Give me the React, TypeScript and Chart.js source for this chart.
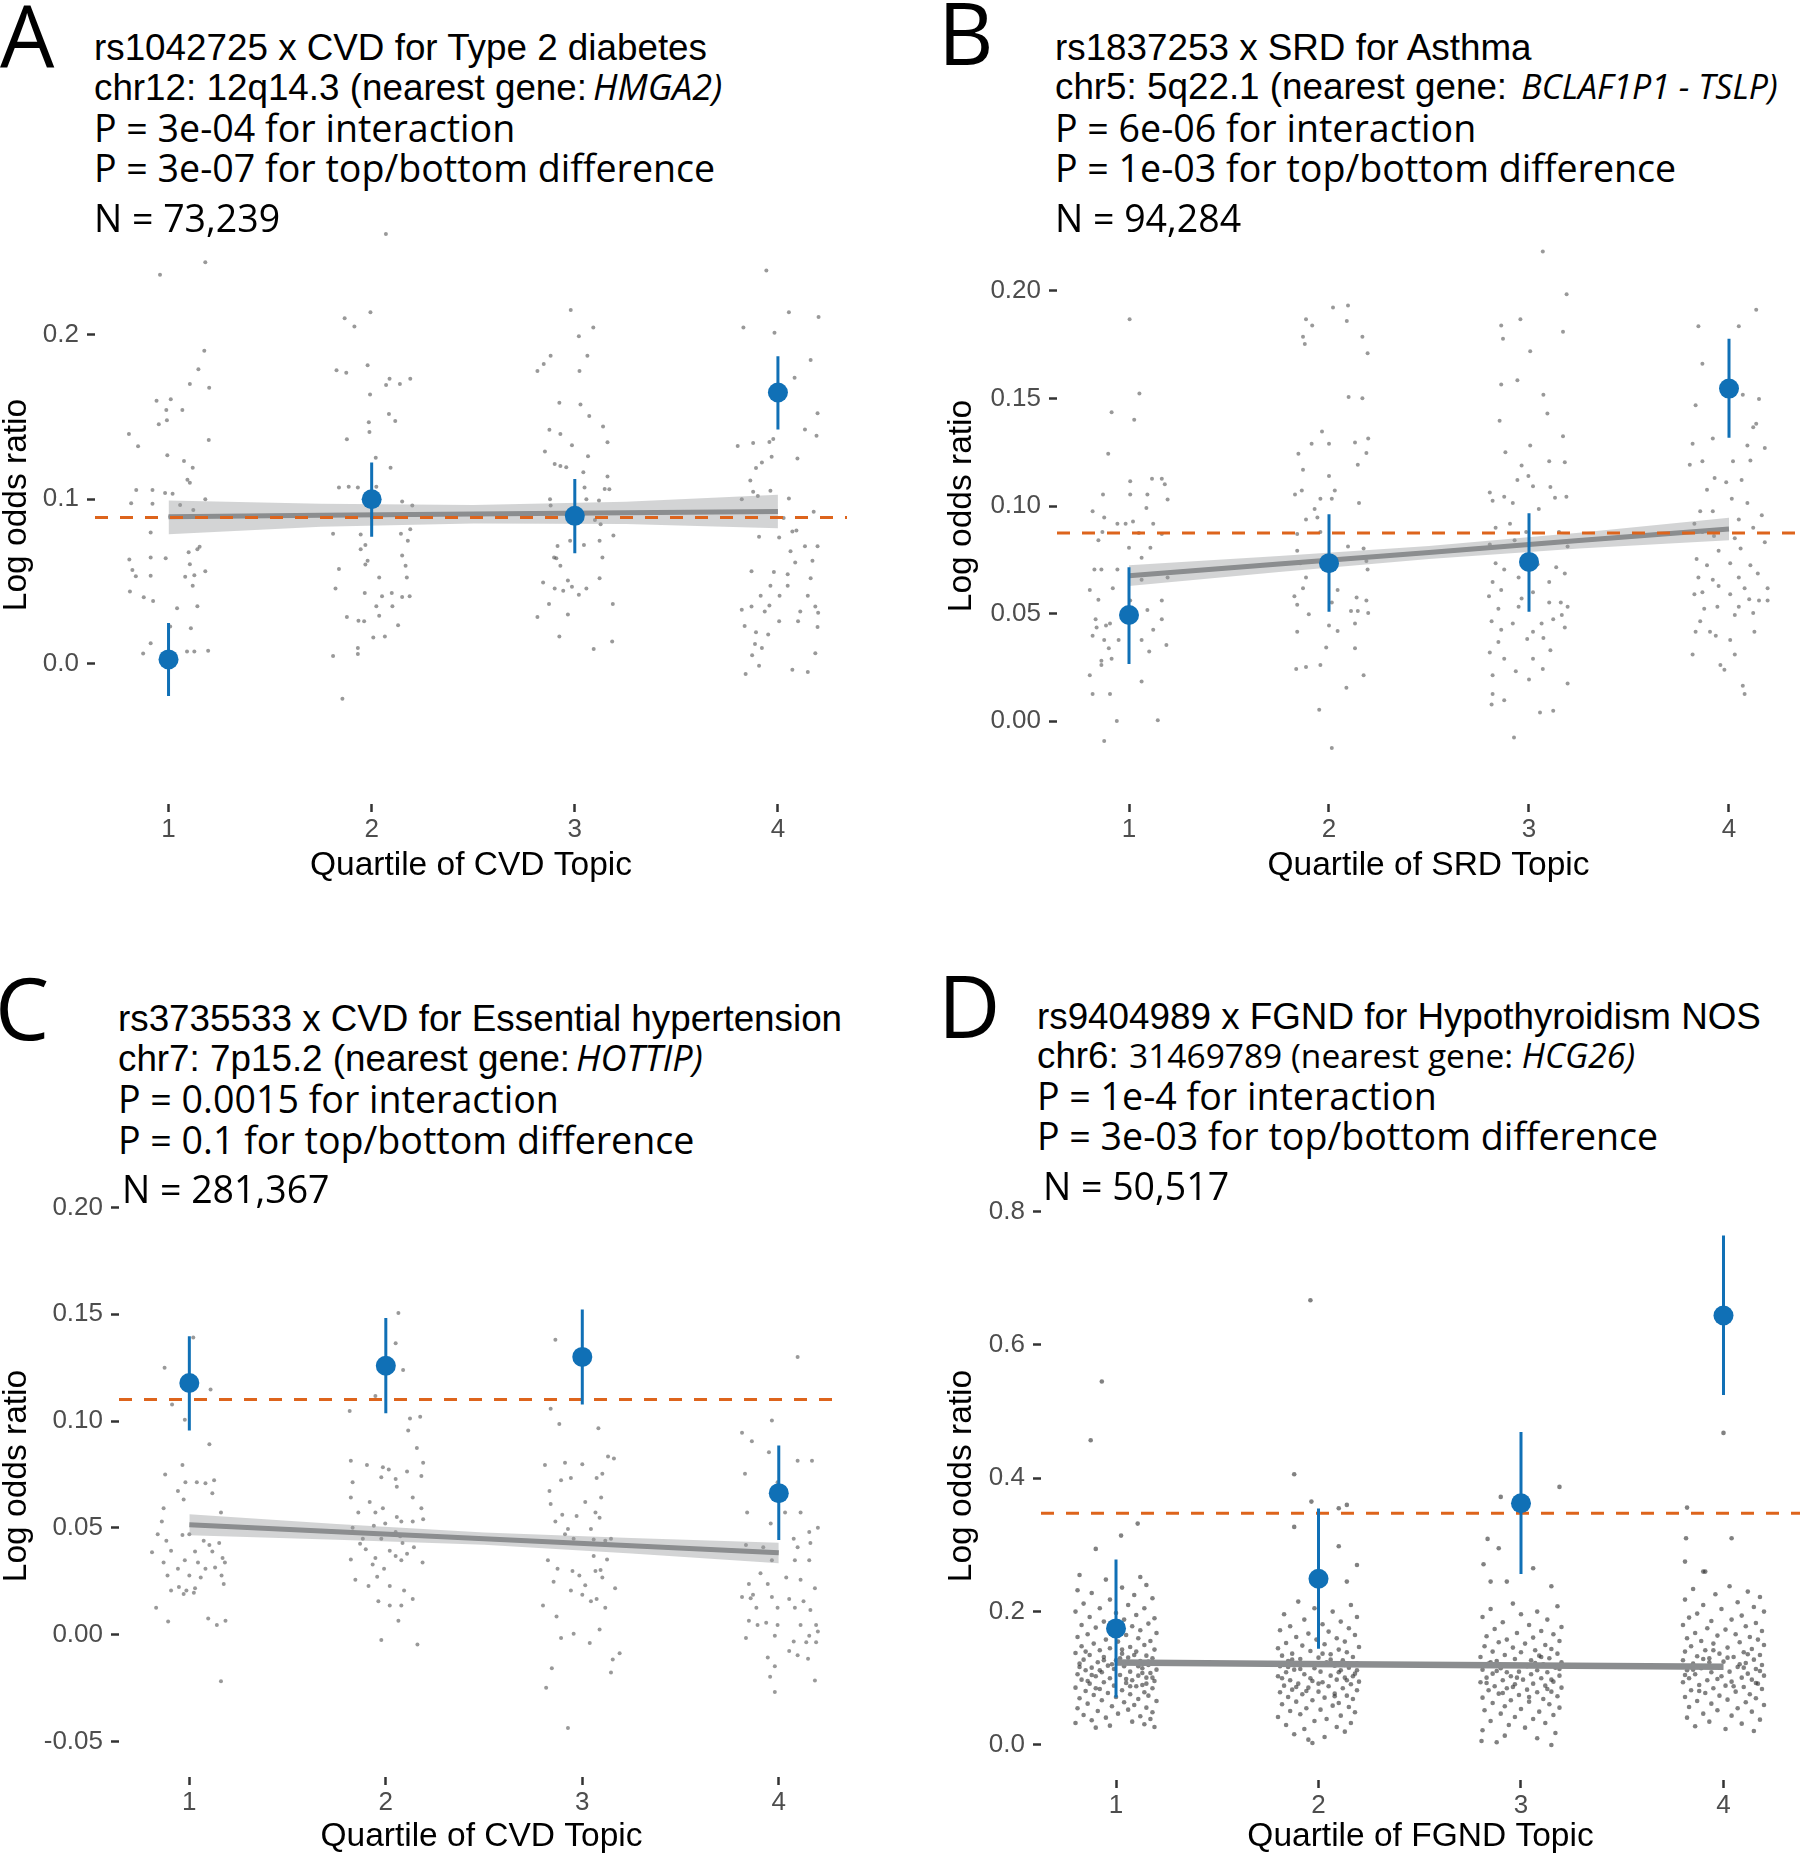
import React, { useEffect, useRef } from 'react';
import { Chart, registerables } from 'chart.js';

Chart.register(...registerables);

// ---------------- shared ----------------
const quartiles = [1, 2, 3, 4];
const xTickLabels = ['1', '2', '3', '4'];
const fitX = [1, 1.75, 2.5, 3.25, 4];

const BLUE = '#1070B6';
const ORANGE = '#DD641C';
const FIT_COLOR = '#8B8D8F';
const RIBBON = 'rgba(150,152,154,0.42)';
const DOT = 'rgba(70,70,70,0.55)';
const DOT_D = 'rgba(45,45,45,0.6)';
const ARIAL = '"Liberation Sans", Arial, Helvetica, sans-serif';
const OPEN = '"Open Sans", "Noto Sans", sans-serif';

// ---------------- Panel A ----------------
const aTitle = ['rs1042725 x CVD for Type 2 diabetes', 'chr12: 12q14.3 (nearest gene:', 'HMGA2)', 'P = 3e-04 for interaction', 'P = 3e-07 for top/bottom difference', 'N = 73,239'];
const aXTitle = 'Quartile of CVD Topic';
const aYTicks = [0, 0.1, 0.2];
const aYTickLabels = ['0.0', '0.1', '0.2'];
const aEst = [0.0025, 0.100, 0.0899, 0.165];
const aLo = [-0.0197, 0.0772, 0.0671, 0.1425];
const aHi = [0.0246, 0.1223, 0.1124, 0.187];
const aOverall = 0.0889;
const aFit = [0.0893, 0.0902, 0.0910, 0.0918, 0.0926];
const aFitLo = [0.0787, 0.0832, 0.0852, 0.0850, 0.0823];
const aFitHi = [0.0992, 0.0972, 0.0965, 0.0985, 0.1028];
const aQ1 = [[-0.042,0.2367],[0.181,0.2443],[0.176,0.1904],[0.147,0.1792],[0.105,0.1701],[0.2,0.1678],[-0.059,0.16],[0.011,0.1608],[-0.011,0.1544],[0.068,0.1544],[-0.048,0.1456],[-0.008,0.1481],[-0.195,0.1397],[0.198,0.136],[-0.15,0.1322],[-0.006,0.1268],[0.076,0.1233],[0.119,0.1192],[0.093,0.1119],[0.105,0.1101],[-0.159,0.1056],[-0.079,0.1056],[-0.017,0.1038],[0.02,0.1033],[0.181,0.1],[-0.184,0.0975],[-0.079,0.0972],[0.057,0.0965],[0.122,0.0934],[0.008,0.0894],[-0.088,0.0797],[0.153,0.0711],[0.142,0.0696],[0.099,0.0678],[-0.193,0.0633],[-0.088,0.0646],[-0.014,0.0641],[-0.178,0.057],[-0.161,0.0532],[0.105,0.0605],[0.181,0.0562],[-0.088,0.0534],[0.082,0.0529],[0.127,0.0537],[-0.19,0.0438],[-0.122,0.0403],[0.119,0.0473],[-0.076,0.038],[0.042,0.0337],[0.142,0.0349],[0.008,0.0225],[0.11,0.0215],[-0.088,0.0124],[-0.125,0.0061],[0.127,0.0073],[0.091,0.0073],[0.195,0.0078]];
const aQ2 = [[0.07,0.2615],[-0.144,-0.0215],[-0.006,0.2139],[-0.085,0.2051],[-0.133,0.2101],[-0.02,0.1815],[-0.173,0.1785],[-0.125,0.177],[0.088,0.1734],[0.19,0.1734],[0.139,0.1701],[0.071,0.1696],[-0.008,0.1638],[0.085,0.1519],[0.116,0.1476],[-0.014,0.1468],[-0.011,0.141],[-0.122,0.1365],[0.02,0.1253],[0.093,0.1192],[-0.161,0.1071],[-0.113,0.1076],[-0.068,0.1071],[0.023,0.1076],[0.15,0.0987],[0.2,0.0962],[-0.19,0.079],[-0.054,0.0785],[0.144,0.079],[0.19,0.0818],[0.178,0.0747],[-0.031,0.0722],[-0.054,0.0696],[0.15,0.0658],[-0.02,0.0625],[-0.031,0.0603],[0.167,0.0595],[-0.161,0.0575],[0.037,0.0524],[0.173,0.0524],[-0.178,0.0456],[-0.034,0.043],[0.099,0.043],[0.051,0.041],[0.15,0.0405],[0.187,0.041],[0.023,0.0349],[0.102,0.0349],[-0.122,0.0284],[-0.065,0.0261],[-0.037,0.0258],[0.037,0.0291],[0.13,0.0233],[0.008,0.0159],[0.065,0.0165],[-0.068,0.0094],[-0.068,0.0058],[-0.19,0.0046]];
const aQ3 = [[-0.02,0.2152],[0.091,0.2046],[0.02,0.1992],[0.062,0.1873],[-0.119,0.1873],[-0.153,0.1823],[-0.184,0.178],[0.023,0.178],[-0.076,0.1587],[0.028,0.1577],[0.071,0.1506],[-0.125,0.1423],[-0.071,0.1397],[0.139,0.1443],[-0.014,0.1329],[0.161,0.1347],[-0.147,0.1291],[0.065,0.1261],[-0.099,0.1215],[-0.071,0.1203],[-0.042,0.1195],[0.042,0.1165],[0.161,0.1139],[0.17,0.1061],[0.147,0.1063],[0.119,0.0992],[0.048,0.1071],[0.057,0.1],[-0.122,0.1],[-0.119,0.0962],[0.099,0.0873],[0.127,0.0848],[0.19,0.078],[0.122,0.0747],[-0.023,0.0747],[0.045,0.0722],[-0.085,0.0716],[-0.102,0.0646],[-0.091,0.0641],[-0.071,0.0595],[-0.156,0.0494],[0.136,0.0646],[0.122,0.0519],[-0.034,0.0506],[-0.099,0.0456],[-0.014,0.0468],[-0.057,0.0443],[0.02,0.0418],[0.057,0.0456],[0.187,0.0362],[-0.127,0.0362],[-0.034,0.0299],[-0.184,0.0284],[-0.076,0.0165],[0.184,0.0134],[0.093,0.0089]];
const aQ4 = [[-0.057,0.2392],[0.054,0.2139],[0.2,0.2109],[-0.17,0.2046],[-0.017,0.2013],[0.161,0.1848],[0.082,0.1739],[-0.017,0.1671],[0.195,0.1524],[0.133,0.1425],[0.19,0.1387],[-0.198,0.1324],[-0.122,0.1342],[-0.042,0.1349],[-0.023,0.1367],[-0.031,0.1258],[-0.079,0.1223],[-0.108,0.119],[0.096,0.1248],[-0.136,0.1114],[-0.037,0.1051],[-0.122,0.1046],[-0.099,0.102],[0.054,0.1005],[-0.178,0.1],[0.176,0.0924],[0.028,0.0886],[0.091,0.081],[0.071,0.0803],[-0.093,0.0772],[0.006,0.0767],[0.133,0.0714],[0.195,0.0714],[0.062,0.0684],[0.17,0.0625],[-0.13,0.0562],[0.085,0.0615],[-0.02,0.0557],[0.048,0.0544],[0.161,0.0519],[-0.037,0.0473],[0.048,0.0473],[-0.085,0.0413],[0.008,0.0413],[0.147,0.0413],[-0.13,0.0347],[-0.042,0.0354],[-0.178,0.0327],[-0.065,0.0316],[0.11,0.0316],[0.184,0.0347],[0.198,0.0309],[0.006,0.0258],[0.099,0.0258],[-0.164,0.0228],[0.195,0.0223],[-0.108,0.019],[-0.048,0.0177],[-0.113,0.0119],[-0.079,0.0094],[0.184,0.0063],[-0.127,0.0051],[-0.093,-0.0013],[-0.159,-0.0063],[0.071,-0.0038],[0.147,-0.0051]];

// ---------------- Panel B ----------------
const bTitle = ['rs1837253 x SRD for Asthma', 'chr5: 5q22.1 (nearest gene: ', 'BCLAF1P1 - TSLP)', 'P = 6e-06 for interaction', 'P = 1e-03 for top/bottom difference', 'N = 94,284'];
const bXTitle = 'Quartile of SRD Topic';
const bYTicks = [0, 0.05, 0.1, 0.15, 0.2];
const bYTickLabels = ['0.00', '0.05', '0.10', '0.15', '0.20'];
const bEst = [0.0493, 0.0734, 0.074, 0.1546];
const bLo = [0.0265, 0.0508, 0.0508, 0.1318];
const bHi = [0.0715, 0.0962, 0.0966, 0.1778];
const bOverall = 0.0875;
const bFit = [0.0676, 0.0730, 0.0784, 0.0839, 0.0893];
const bFitLo = [0.0628, 0.0693, 0.0754, 0.0802, 0.0841];
const bFitHi = [0.0724, 0.0767, 0.0814, 0.0876, 0.0945];
const bQ1 = [[0.003,0.1869],[0.052,0.1523],[-0.087,0.1436],[0.026,0.1401],[-0.104,0.1243],[0.006,0.1115],[0.115,0.1127],[0.164,0.1127],[0.179,0.1101],[-0.13,0.1053],[0.092,0.1053],[0.006,0.1053],[0.193,0.103],[-0.182,0.0976],[-0.124,0.0947],[0.087,0.0991],[-0.058,0.0918],[-0.017,0.0918],[0.02,0.0928],[0.121,0.0918],[-0.133,0.0879],[0.049,0.0875],[0.164,0.087],[-0.153,0.0841],[0,0.0806],[0.107,0.0806],[0.063,0.0759],[-0.173,0.0705],[-0.138,0.0705],[-0.058,0.0705],[0.063,0.0657],[0.193,0.0667],[-0.196,0.0609],[-0.081,0.0618],[-0.153,0.0564],[0.006,0.056],[0.164,0.056],[0.092,0.0516],[-0.167,0.0473],[-0.095,0.0454],[-0.023,0.0483],[0.164,0.0473],[-0.162,0.0435],[-0.115,0.0444],[0.121,0.0425],[-0.052,0.0377],[-0.124,0.0377],[-0.182,0.0396],[-0.101,0.0338],[0.063,0.0377],[0.187,0.0354],[0.101,0.0323],[-0.138,0.028],[-0.087,0.029],[0.063,0.0184],[-0.095,0.0126],[-0.182,0.0126],[-0.061,0],[0.144,0.0004],[-0.124,-0.0093],[-0.196,0.0213],[-0.138,0.0261]];
const bQ2 = [[0.02,0.1923],[0.095,0.1932],[-0.115,0.1869],[-0.084,0.184],[-0.13,0.1787],[-0.121,0.1753],[0.089,0.1861],[0.167,0.1787],[0.193,0.171],[0.098,0.1507],[0.167,0.1501],[-0.035,0.1347],[-0.087,0.1289],[0,0.1289],[-0.153,0.1243],[0.196,0.1314],[0.13,0.1295],[0.187,0.1246],[0.144,0.1192],[-0.13,0.1169],[0,0.114],[-0.17,0.1053],[-0.136,0.1072],[0.029,0.1072],[-0.043,0.1034],[0.014,0.1034],[-0.072,0.0986],[-0.058,0.0947],[0.15,0.1014],[-0.115,0.0937],[-0.159,0.087],[-0.159,0.0792],[-0.043,0.0879],[0.095,0.0812],[0.173,0.0802],[-0.144,0.0734],[0.101,0.0754],[0.187,0.0744],[-0.115,0.0667],[0.193,0.0705],[-0.13,0.0618],[0.043,0.0609],[-0.173,0.058],[-0.159,0.0541],[0.014,0.0551],[0.138,0.0574],[0.187,0.056],[0.11,0.0512],[0.144,0.0512],[0.13,0.0454],[0.196,0.0502],[-0.101,0.0497],[0,0.0444],[-0.159,0.0415],[0.043,0.0419],[0.13,0.0338],[-0.014,0.0342],[-0.164,0.0242],[-0.115,0.0251],[-0.043,0.0261],[0.173,0.0213],[0.087,0.0155],[-0.049,0.0052],[0.014,-0.0126]];
const bQ3 = [[0.069,0.2184],[0.188,0.1985],[-0.043,0.1869],[-0.139,0.184],[0.17,0.1811],[0.006,0.172],[-0.13,0.1778],[-0.139,0.1565],[-0.058,0.1585],[0.072,0.1517],[0.092,0.143],[-0.147,0.1397],[0.17,0.1324],[0.006,0.1281],[-0.118,0.125],[-0.037,0.1188],[0.101,0.1208],[0.179,0.1204],[-0.003,0.114],[-0.058,0.1121],[0.02,0.1092],[0.107,0.1088],[-0.196,0.1063],[-0.124,0.1043],[0.187,0.1043],[0.13,0.1038],[-0.081,0.1014],[-0.182,0.1024],[0.049,0.0986],[-0.095,0.0918],[-0.014,0.0879],[-0.167,0.0899],[0.15,0.0879],[-0.196,0.0821],[-0.072,0.0841],[0.193,0.0812],[-0.167,0.0734],[0.043,0.0729],[-0.124,0.0705],[0.136,0.0715],[-0.182,0.0647],[-0.052,0.0667],[0.179,0.0686],[0.101,0.0647],[-0.139,0.0609],[0.02,0.0599],[-0.2,0.058],[-0.037,0.057],[0.101,0.0551],[0.159,0.0551],[-0.153,0.0522],[-0.052,0.0531],[0.193,0.0531],[0.164,0.0493],[-0.187,0.0464],[-0.081,0.0454],[0.063,0.0454],[0.121,0.0473],[-0.139,0.0425],[0.02,0.0415],[0.179,0.0435],[-0.153,0.0367],[-0.009,0.0381],[0.072,0.0386],[-0.196,0.0319],[0.107,0.0329],[-0.124,0.029],[0.02,0.029],[-0.066,0.0232],[0.069,0.0242],[-0.182,0.0213],[0,0.0193],[0.193,0.0174],[-0.182,0.0126],[-0.124,0.0097],[-0.187,0.0077],[0.055,0.0039],[0.121,0.0048],[-0.075,-0.0077]];
const bQ4 = [[0.136,0.1913],[0.049,0.1836],[-0.153,0.1836],[-0.133,0.1662],[-0.167,0.1469],[0.069,0.1517],[0.15,0.1498],[-0.182,0.1289],[-0.081,0.1314],[0.092,0.1281],[0.179,0.127],[0.136,0.1382],[0.121,0.1366],[-0.133,0.1208],[0.02,0.1208],[0.107,0.1212],[-0.196,0.1192],[-0.072,0.113],[-0.11,0.1076],[-0.014,0.1111],[0.063,0.1121],[0.014,0.1034],[-0.144,0.0976],[-0.081,0.0976],[0.092,0.1014],[0.164,0.0957],[-0.173,0.0918],[0.049,0.0937],[0.121,0.0899],[-0.133,0.0879],[-0.075,0.086],[0.029,0.085],[-0.052,0.0792],[0.058,0.0802],[0.179,0.0831],[-0.162,0.0754],[-0.11,0.0725],[0.006,0.0734],[0.107,0.0725],[-0.153,0.0667],[-0.081,0.0657],[0.049,0.0667],[0.144,0.0686],[-0.052,0.0628],[-0.133,0.0599],[0.078,0.0618],[0.193,0.0618],[-0.173,0.0589],[0.006,0.0589],[0.101,0.0566],[-0.124,0.0522],[-0.058,0.0531],[0.049,0.0531],[0.15,0.056],[0.193,0.056],[-0.144,0.0464],[0.029,0.0493],[0.121,0.0502],[-0.095,0.0415],[0.006,0.0377],[-0.167,0.0415],[-0.066,0.0396],[0.127,0.0415],[0.029,0.0309],[-0.182,0.0309],[-0.043,0.0261],[0.069,0.0164],[-0.023,0.0238],[0.078,0.0126]];

// ---------------- Panel C ----------------
const cTitle = ['rs3735533 x CVD for Essential hypertension', 'chr7: 7p15.2 (nearest gene:', 'HOTTIP)', 'P = 0.0015 for interaction', 'P = 0.1 for top/bottom difference', 'N = 281,367'];
const cXTitle = 'Quartile of CVD Topic';
const cYTicks = [-0.05, 0, 0.05, 0.1, 0.15, 0.2];
const cYTickLabels = ['-0.05', '0.00', '0.05', '0.10', '0.15', '0.20'];
const cEst = [0.1178, 0.1259, 0.13, 0.0662];
const cLo = [0.0955, 0.1036, 0.1077, 0.0443];
const cHi = [0.1397, 0.1482, 0.1522, 0.0885];
const cOverall = 0.1101;
const cFit = [0.0514, 0.0481, 0.0449, 0.0416, 0.0383];
const cFitLo = [0.0465, 0.0444, 0.0420, 0.0380, 0.0334];
const cFitHi = [0.0563, 0.0518, 0.0478, 0.0452, 0.0430];
const cQ1 = [[0.02,0.1391],[-0.126,0.1249],[-0.088,0.1077],[-0.023,0.1006],[0.102,0.0891],[0.108,0.1148],[-0.035,0.0794],[-0.123,0.0749],[-0.02,0.0713],[0.038,0.0713],[0.126,0.0723],[0.082,0.0709],[-0.058,0.0672],[0.117,0.0662],[-0.131,0.0591],[-0.029,0.0632],[0.161,0.0571],[-0.14,0.053],[-0.035,0.0466],[0,0.047],[-0.161,0.047],[-0.117,0.0439],[0.073,0.0439],[0.102,0.0419],[0.152,0.0429],[-0.093,0.0393],[-0.19,0.0385],[0.029,0.0389],[0.117,0.0389],[0.169,0.0358],[-0.131,0.0338],[-0.023,0.0348],[0.044,0.0338],[0.181,0.0338],[-0.058,0.0308],[0.131,0.0314],[-0.111,0.0277],[0,0.0277],[0.082,0.0308],[0.058,0.0267],[0.164,0.0277],[-0.053,0.0223],[-0.015,0.0206],[0.029,0.0217],[-0.093,0.0206],[0.175,0.0237],[-0.029,0.019],[0.023,0.0196],[-0.169,0.0126],[0.096,0.0075],[0.184,0.0065],[0.14,0.0045],[-0.108,0.0061],[0.161,-0.0219]];
const cQ2 = [[0.064,0.1506],[0.05,0.1364],[0.088,0.1239],[-0.053,0.1117],[-0.184,0.1047],[0.123,0.1012],[0.175,0.102],[0.114,0.0955],[0.158,0.0874],[0.19,0.0804],[-0.178,0.0814],[-0.096,0.0794],[-0.015,0.0783],[0.015,0.0773],[0.108,0.0763],[0.181,0.0743],[-0.169,0.0713],[-0.023,0.0737],[0.05,0.0729],[0.056,0.0692],[-0.178,0.0642],[0.137,0.0642],[-0.082,0.0621],[-0.14,0.0571],[-0.053,0.0571],[-0.015,0.0591],[0.056,0.0551],[0.181,0.0591],[-0.003,0.052],[0.079,0.053],[-0.061,0.051],[0.137,0.053],[0.19,0.054],[-0.169,0.05],[0.05,0.048],[-0.023,0.0449],[0.073,0.046],[-0.117,0.0449],[0.085,0.0429],[-0.102,0.0399],[0.143,0.0409],[0.02,0.0393],[0.108,0.0379],[0.05,0.0368],[-0.053,0.0358],[-0.178,0.0352],[-0.067,0.0328],[0.079,0.0348],[0.187,0.0338],[-0.009,0.0308],[-0.044,0.0271],[-0.155,0.0257],[-0.088,0.0227],[0.02,0.0227],[0.093,0.0206],[-0.038,0.0156],[0.137,0.0166],[0.079,0.0136],[0.02,0.0136],[0.064,0.0065],[-0.023,-0.0026],[0.161,-0.0047],[-0.131,0.0425]];
const cQ3 = [[-0.137,0.1381],[-0.161,0.1057],[-0.117,0.0986],[0.082,0.0966],[-0.19,0.0794],[-0.088,0.0804],[0,0.0798],[0.102,0.0753],[0.131,0.0834],[0.161,0.0824],[-0.108,0.0723],[-0.167,0.0672],[-0.058,0.0733],[0.073,0.0733],[-0.161,0.0611],[-0.102,0.0561],[0.015,0.0621],[0.096,0.0642],[0.067,0.0571],[-0.029,0.0555],[0.088,0.0547],[-0.137,0.053],[-0.073,0.0494],[0.044,0.0494],[-0.088,0.047],[-0.044,0.0449],[0.058,0.0445],[0.117,0.0439],[0.146,0.0449],[-0.175,0.0348],[-0.126,0.0308],[0.058,0.0368],[0.126,0.0352],[-0.05,0.0298],[0.093,0.0302],[-0.015,0.0277],[-0.146,0.0247],[0.067,0.0298],[0.102,0.0267],[0.015,0.0231],[0.167,0.0217],[-0.058,0.0206],[0,0.0186],[0.073,0.0166],[0.044,0.0156],[0.117,0.0126],[-0.131,0.0085],[0.088,0.0024],[-0.108,-0.0016],[0.038,-0.004],[-0.044,0.0004],[0.19,-0.0087],[0.155,-0.0117],[0.146,-0.0178],[-0.155,-0.0158],[-0.184,-0.0249],[-0.073,-0.0437],[-0.2,0.0136]];
const cQ4 = [[-0.035,0.1002],[0.096,0.13],[-0.187,0.0945],[-0.137,0.0905],[-0.05,0.0854],[0.096,0.0814],[0.169,0.0814],[-0.172,0.0753],[-0.006,0.0713],[-0.161,0.0571],[0.032,0.0571],[0.111,0.0571],[-0.041,0.052],[0.155,0.048],[0.199,0.05],[0.076,0.0449],[-0.167,0.0419],[-0.079,0.0409],[0.096,0.0409],[-0.035,0.0348],[0.082,0.0348],[0.155,0.0348],[0.161,0.0429],[-0.093,0.0287],[-0.056,0.0237],[-0.152,0.0237],[0.038,0.0267],[0.111,0.0257],[0.184,0.0217],[-0.187,0.0176],[-0.143,0.017],[-0.035,0.0176],[0.053,0.0166],[0.126,0.0156],[-0.114,0.0126],[-0.006,0.0126],[0.082,0.0126],[0.161,0.0115],[-0.152,0.0065],[-0.064,0.0055],[-0.006,0.0045],[-0.108,0.0045],[0.111,0.0045],[0.19,0.0045],[0.155,-0.0006],[0.076,-0.0032],[0.199,0.0014],[-0.167,-0.0016],[-0.02,-0.0006],[0.053,-0.0077],[0.14,-0.0036],[0.19,-0.0036],[-0.056,-0.0107],[0.096,-0.0097],[0.149,-0.0113],[0.184,-0.0215],[-0.02,-0.0148],[-0.044,-0.0198],[-0.02,-0.0269],[-0.131,0.0186]];

// ---------------- Panel D ----------------
const dTitle = ['rs9404989 x FGND for Hypothyroidism NOS', 'chr6: ', '31469789 (nearest gene: ', 'HCG26)', 'P = 1e-4 for interaction', 'P = 3e-03 for top/bottom difference', 'N = 50,517'];
const dXTitle = 'Quartile of FGND Topic';
const dYTicks = [0, 0.2, 0.4, 0.6, 0.8];
const dYTickLabels = ['0.0', '0.2', '0.4', '0.6', '0.8'];
const dEst = [0.1748, 0.2492, 0.3625, 0.644];
const dLo = [0.0712, 0.1443, 0.2563, 0.5249];
const dHi = [0.2783, 0.3547, 0.4693, 0.7638];
const dOverall = 0.3476;
const dFit = [0.1236, 0.1220, 0.1204, 0.1188, 0.1172];
const dFitLo = [0.1197, 0.1188, 0.1175, 0.1156, 0.1132];
const dFitHi = [0.1275, 0.1252, 0.1233, 0.1220, 0.1212];
const dQ1 = [[-0.07,0.545],[-0.125,0.457],[0.107,0.332],[0.025,0.314],[-0.1,0.294],[-0.18,0.255],[-0.05,0.248],[0.12,0.252],[0.15,0.24],[-0.19,0.232],[0.03,0.236],[-0.12,0.228],[0.09,0.225],[0.18,0.22],[-0.03,0.218],[-0.16,0.212],[0.06,0.21],[-0.08,0.205],[0.14,0.205],[-0.2,0.2],[0.0,0.198],[0.1,0.195],[-0.13,0.192],[0.19,0.19],[0.04,0.188],[-0.06,0.185],[0.16,0.182],[-0.17,0.18],[0.08,0.178],[-0.1,0.176],[0.12,0.172],[-0.02,0.17],[0.2,0.168],[-0.14,0.166],[0.05,0.165],[-0.19,0.162],[0.11,0.16],[-0.05,0.158],[0.17,0.156],[0.01,0.155],[-0.11,0.152],[0.14,0.15],[-0.17,0.148],[0.07,0.147],[-0.03,0.145],[0.19,0.143],[-0.08,0.142],[0.1,0.14],[-0.2,0.138],[0.03,0.137],[-0.13,0.135],[0.15,0.134],[-0.06,0.132],[0.06,0.131],[0.18,0.13],[-0.16,0.128],[0.0,0.127],[0.12,0.126],[-0.09,0.124],[0.09,0.123],[-0.18,0.122],[0.16,0.12],[-0.04,0.119],[0.04,0.118],[-0.12,0.116],[0.13,0.115],[-0.01,0.114],[0.2,0.113],[-0.15,0.112],[0.07,0.11],[-0.07,0.109],[0.17,0.108],[-0.19,0.106],[0.02,0.105],[0.11,0.104],[-0.1,0.103],[0.15,0.101],[-0.03,0.1],[-0.17,0.098],[0.08,0.097],[0.19,0.096],[-0.06,0.094],[0.05,0.093],[-0.13,0.092],[0.13,0.09],[-0.01,0.089],[0.1,0.088],[-0.2,0.086],[0.18,0.085],[-0.08,0.084],[0.03,0.082],[-0.15,0.081],[0.14,0.079],[-0.04,0.078],[0.07,0.076],[-0.11,0.075],[0.16,0.074],[0.0,0.072],[-0.18,0.07],[0.11,0.069],[-0.07,0.067],[0.2,0.066],[0.04,0.064],[-0.14,0.062],[0.09,0.06],[-0.02,0.058],[0.15,0.056],[-0.19,0.055],[0.06,0.053],[-0.09,0.051],[0.18,0.049],[0.01,0.047],[-0.16,0.045],[0.12,0.043],[-0.05,0.041],[0.17,0.039],[-0.12,0.037],[0.08,0.035],[-0.2,0.033],[0.14,0.031],[-0.03,0.029],[0.19,0.027],[-0.1,0.026],[-0.15,0.14],[0.02,0.13],[0.11,0.118],[-0.08,0.112],[0.16,0.125],[-0.12,0.105],[0.05,0.099],[-0.02,0.121],[0.09,0.135],[-0.18,0.117],[0.13,0.108],[-0.06,0.127],[0.18,0.101],[-0.14,0.096],[0.03,0.143],[0.07,0.088],[-0.1,0.085],[0.15,0.092]];
const dQ2 = [[-0.04,0.667],[-0.12,0.406],[-0.035,0.365],[0.1,0.355],[0.14,0.36],[-0.12,0.327],[0.1,0.298],[0.19,0.27],[0.14,0.245],[-0.03,0.003],[-0.1,0.215],[0.16,0.21],[-0.02,0.205],[0.07,0.2],[-0.17,0.196],[0.19,0.192],[-0.07,0.188],[0.11,0.185],[0.02,0.181],[-0.14,0.178],[0.15,0.175],[-0.19,0.172],[0.05,0.17],[-0.05,0.167],[0.18,0.165],[-0.11,0.162],[0.09,0.16],[-0.01,0.158],[0.13,0.155],[-0.16,0.153],[0.03,0.151],[-0.08,0.149],[0.2,0.147],[-0.2,0.145],[0.1,0.143],[-0.04,0.141],[0.14,0.139],[-0.13,0.137],[0.06,0.136],[-0.18,0.134],[0.17,0.132],[0.0,0.131],[-0.09,0.129],[0.12,0.127],[-0.15,0.126],[0.04,0.124],[0.19,0.122],[-0.06,0.121],[0.08,0.119],[-0.19,0.118],[0.15,0.116],[-0.02,0.115],[-0.12,0.113],[0.11,0.112],[0.01,0.11],[-0.16,0.109],[0.18,0.107],[-0.07,0.106],[0.06,0.104],[-0.2,0.103],[0.13,0.101],[-0.04,0.1],[0.09,0.098],[-0.14,0.097],[0.2,0.095],[0.02,0.094],[-0.1,0.092],[0.16,0.091],[-0.17,0.089],[0.05,0.088],[-0.05,0.086],[0.12,0.085],[-0.13,0.083],[0.19,0.082],[0.0,0.08],[-0.19,0.079],[0.08,0.077],[-0.08,0.076],[0.14,0.074],[-0.15,0.072],[0.03,0.071],[0.17,0.069],[-0.03,0.067],[-0.11,0.065],[0.1,0.063],[-0.18,0.061],[0.07,0.059],[0.15,0.057],[-0.06,0.055],[0.01,0.053],[-0.14,0.051],[0.18,0.049],[-0.09,0.046],[0.11,0.044],[-0.2,0.042],[0.04,0.039],[-0.02,0.036],[0.16,0.033],[-0.16,0.03],[0.09,0.027],[-0.07,0.024],[0.13,0.02],[-0.12,0.016],[0.03,0.012],[-0.05,0.008],[0.06,0.128],[-0.15,0.117],[0.1,0.109],[-0.03,0.096],[0.17,0.103],[-0.11,0.087],[0.02,0.137],[-0.18,0.1],[0.13,0.12],[-0.06,0.081],[0.08,0.073],[-0.13,0.128],[0.19,0.112],[0.0,0.092],[-0.09,0.114],[0.14,0.097]];
const dQ3 = [[0.19,0.387],[-0.1,0.372],[-0.165,0.309],[-0.11,0.295],[-0.185,0.271],[0.06,0.265],[-0.15,0.245],[-0.07,0.245],[0.15,0.238],[-0.195,0.006],[0.15,0.0],[-0.12,0.004],[-0.04,0.212],[0.18,0.208],[-0.15,0.204],[0.08,0.2],[0.0,0.196],[-0.19,0.192],[0.13,0.188],[-0.09,0.184],[0.04,0.18],[0.2,0.177],[-0.13,0.174],[0.1,0.171],[-0.02,0.168],[0.16,0.166],[-0.17,0.163],[0.06,0.161],[-0.07,0.158],[0.19,0.156],[-0.11,0.154],[0.02,0.152],[0.12,0.15],[-0.18,0.148],[-0.04,0.146],[0.15,0.144],[0.07,0.142],[-0.14,0.14],[0.0,0.139],[0.18,0.137],[-0.08,0.135],[0.09,0.134],[-0.2,0.132],[0.14,0.13],[-0.03,0.129],[0.05,0.127],[-0.12,0.126],[0.2,0.124],[-0.16,0.122],[0.11,0.121],[-0.06,0.119],[0.03,0.118],[0.17,0.116],[-0.1,0.115],[-0.19,0.113],[0.08,0.112],[-0.01,0.11],[0.13,0.109],[-0.14,0.107],[0.05,0.106],[0.19,0.104],[-0.05,0.103],[-0.17,0.101],[0.1,0.1],[0.01,0.098],[-0.09,0.097],[0.16,0.095],[-0.2,0.094],[0.06,0.092],[-0.03,0.091],[0.12,0.089],[-0.13,0.088],[0.2,0.086],[-0.07,0.085],[0.03,0.083],[-0.16,0.082],[0.15,0.08],[0.08,0.079],[-0.11,0.077],[-0.01,0.075],[0.18,0.073],[-0.19,0.071],[0.11,0.069],[-0.05,0.067],[0.04,0.065],[-0.14,0.063],[0.14,0.061],[-0.08,0.058],[0.19,0.056],[0.0,0.054],[-0.18,0.052],[0.09,0.05],[-0.1,0.047],[0.16,0.045],[-0.03,0.042],[0.06,0.039],[-0.15,0.036],[0.12,0.033],[-0.06,0.03],[0.02,0.026],[-0.19,0.022],[0.17,0.018],[-0.08,0.014],[0.08,0.01],[0.07,0.123],[-0.12,0.111],[0.15,0.098],[-0.04,0.087],[0.1,0.132],[-0.17,0.093],[0.01,0.119],[-0.09,0.078],[0.19,0.114],[-0.02,0.101],[0.13,0.084],[-0.15,0.124],[0.04,0.072],[-0.07,0.109]];
const dQ4 = [[0.0,0.468],[-0.18,0.356],[-0.185,0.31],[0.04,0.31],[-0.19,0.275],[-0.1,0.26],[-0.09,0.26],[0.03,0.238],[-0.15,0.234],[0.12,0.23],[-0.04,0.226],[0.18,0.222],[-0.19,0.218],[0.07,0.214],[-0.1,0.21],[0.15,0.207],[-0.01,0.204],[0.2,0.2],[-0.13,0.197],[0.09,0.194],[-0.17,0.191],[0.04,0.188],[-0.06,0.186],[0.16,0.183],[-0.2,0.18],[0.11,0.178],[-0.08,0.175],[0.01,0.173],[0.19,0.171],[-0.14,0.168],[0.06,0.166],[-0.03,0.164],[0.13,0.162],[-0.18,0.16],[0.17,0.158],[-0.11,0.156],[0.08,0.154],[-0.05,0.152],[0.2,0.15],[-0.16,0.148],[0.02,0.146],[0.14,0.144],[-0.09,0.142],[-0.19,0.14],[0.1,0.139],[-0.02,0.137],[0.18,0.135],[-0.13,0.133],[0.05,0.132],[-0.07,0.13],[0.15,0.128],[-0.2,0.127],[0.0,0.125],[0.11,0.123],[-0.15,0.122],[0.19,0.12],[-0.04,0.118],[0.07,0.117],[-0.11,0.115],[0.16,0.114],[-0.18,0.112],[0.03,0.11],[-0.06,0.109],[0.12,0.107],[-0.14,0.106],[0.2,0.104],[-0.01,0.103],[0.09,0.101],[-0.17,0.1],[0.14,0.098],[-0.08,0.097],[0.04,0.095],[-0.2,0.094],[0.17,0.092],[-0.12,0.09],[0.01,0.089],[0.1,0.087],[-0.05,0.085],[0.19,0.084],[-0.16,0.082],[0.06,0.08],[-0.09,0.078],[0.13,0.076],[-0.02,0.074],[-0.19,0.072],[0.16,0.07],[0.02,0.068],[-0.13,0.066],[0.11,0.064],[-0.06,0.062],[0.2,0.06],[-0.17,0.057],[0.07,0.055],[-0.03,0.052],[0.14,0.05],[-0.1,0.047],[0.04,0.044],[-0.18,0.041],[0.18,0.038],[-0.07,0.035],[0.09,0.032],[-0.14,0.028],[0.01,0.024],[0.15,0.021],[0.08,0.121],[-0.1,0.129],[0.18,0.111],[-0.03,0.099],[0.12,0.136],[-0.15,0.113],[0.05,0.088],[-0.07,0.124],[0.16,0.093],[-0.19,0.105],[0.02,0.131],[-0.12,0.081],[0.1,0.116],[-0.05,0.142]];

// ---------------- panel config ----------------
type PanelCfg = {
  left: number; top: number; width: number; height: number;
  yAxisWidth: number; xAxisHeight: number;
  xMin: number; xMax: number; yMin: number; yMax: number;
  yTicks: number[]; yTickLabels: string[];
  est: number[]; lo: number[]; hi: number[]; overall: number;
  fit: number[]; fitLo: number[]; fitHi: number[];
  jitter: number[][][];
  xTitle: string; xTitlePad: number; yTitlePad: number;
  fitWidth: number; dot: string; dotR: number;
};

const panels: PanelCfg[] = [
  { left: 0, top: 206, width: 847, height: 694, yAxisWidth: 95, xAxisHeight: 96,
    xMin: 0.638, xMax: 4.34, yMin: -0.0855, yMax: 0.2785,
    yTicks: aYTicks, yTickLabels: aYTickLabels, est: aEst, lo: aLo, hi: aHi, overall: aOverall,
    fit: aFit, fitLo: aFitLo, fitHi: aFitHi, jitter: [aQ1, aQ2, aQ3, aQ4],
    xTitle: aXTitle, xTitlePad: 17, yTitlePad: 0, fitWidth: 5, dot: DOT, dotR: 2 },
  { left: 940, top: 208, width: 860, height: 692, yAxisWidth: 117, xAxisHeight: 96,
    xMin: 0.64, xMax: 4.355, yMin: -0.0386, yMax: 0.2386,
    yTicks: bYTicks, yTickLabels: bYTickLabels, est: bEst, lo: bLo, hi: bHi, overall: bOverall,
    fit: bFit, fitLo: bFitLo, fitHi: bFitHi, jitter: [bQ1, bQ2, bQ3, bQ4],
    xTitle: bXTitle, xTitlePad: 17, yTitlePad: 5, fitWidth: 5, dot: DOT, dotR: 2 },
  { left: 0, top: 1175, width: 844, height: 681, yAxisWidth: 119, xAxisHeight: 79,
    xMin: 0.642, xMax: 4.332, yMin: -0.0667, yMax: 0.2152,
    yTicks: cYTicks, yTickLabels: cYTickLabels, est: cEst, lo: cLo, hi: cHi, overall: cOverall,
    fit: cFit, fitLo: cFitLo, fitHi: cFitHi, jitter: [cQ1, cQ2, cQ3, cQ4],
    xTitle: cXTitle, xTitlePad: 2, yTitlePad: 0, fitWidth: 5, dot: DOT, dotR: 2 },
  { left: 940, top: 1172, width: 860, height: 684, yAxisWidth: 101, xAxisHeight: 76,
    xMin: 0.6296, xMax: 4.3778, yMin: -0.0525, yMax: 0.8592,
    yTicks: dYTicks, yTickLabels: dYTickLabels, est: dEst, lo: dLo, hi: dHi, overall: dOverall,
    fit: dFit, fitLo: dFitLo, fitHi: dFitHi, jitter: [dQ1, dQ2, dQ3, dQ4],
    xTitle: dXTitle, xTitlePad: 2, yTitlePad: 5, fitWidth: 6.5, dot: DOT_D, dotR: 2.3 },
];

function Panel({ cfg }: { cfg: PanelCfg }) {
  const ref = useRef<HTMLCanvasElement>(null);
  useEffect(() => {
    const c = cfg;
    const pts: { x: number; y: number }[] = [];
    c.jitter.forEach((arr, qi) => arr.forEach(([dx, y]) => pts.push({ x: quartiles[qi] + dx, y })));
    const err: { x: number; y: number | null }[] = [];
    quartiles.forEach((q, i) => { err.push({ x: q, y: c.lo[i] }, { x: q, y: c.hi[i] }, { x: q, y: null }); });
    const tickFont = { family: ARIAL, size: 26 };
    const titleFont = { family: ARIAL, size: 33.5, lineHeight: 1 };
    const chart = new Chart(ref.current as HTMLCanvasElement, {
      type: 'scatter',
      data: {
        datasets: [
          { data: quartiles.map((q, i) => ({ x: q, y: c.est[i] })), pointRadius: 10, pointBackgroundColor: BLUE, pointBorderWidth: 0, order: 0 } as any,
          { type: 'line', data: err, borderColor: BLUE, borderWidth: 3, pointRadius: 0, spanGaps: false, order: 1 } as any,
          { type: 'line', data: [{ x: c.xMin, y: c.overall }, { x: c.xMax, y: c.overall }], borderColor: ORANGE, borderWidth: 3, borderDash: [13, 12], pointRadius: 0, order: 2 } as any,
          { type: 'line', data: fitX.map((x, i) => ({ x, y: c.fit[i] })), borderColor: FIT_COLOR, borderWidth: c.fitWidth, pointRadius: 0, order: 3 } as any,
          { type: 'line', data: fitX.map((x, i) => ({ x, y: c.fitHi[i] })), borderWidth: 0, borderColor: 'rgba(0,0,0,0)', pointRadius: 0, fill: '+1', backgroundColor: RIBBON, order: 4 } as any,
          { type: 'line', data: fitX.map((x, i) => ({ x, y: c.fitLo[i] })), borderWidth: 0, borderColor: 'rgba(0,0,0,0)', pointRadius: 0, fill: false, order: 5 } as any,
          { data: pts, pointRadius: c.dotR, pointBackgroundColor: c.dot, pointBorderWidth: 0, order: 6 } as any,
        ],
      },
      options: {
        responsive: false,
        maintainAspectRatio: false,
        animation: false,
        devicePixelRatio: 1,
        events: [],
        layout: { padding: 0, autoPadding: false } as any,
        plugins: { legend: { display: false }, tooltip: { enabled: false } },
        scales: {
          x: {
            type: 'linear', min: c.xMin, max: c.xMax,
            afterBuildTicks: (s: any) => { s.ticks = quartiles.map(v => ({ value: v })); },
            afterFit: (s: any) => { s.height = c.xAxisHeight; s.paddingLeft = 0; s.paddingRight = 0; s.paddingTop = 0; s.paddingBottom = 0; },
            ticks: { autoSkip: false, maxRotation: 0, minRotation: 0, padding: 2, color: '#4D4D4D', font: tickFont, callback: (_v: any, i: number) => xTickLabels[i] },
            grid: { drawOnChartArea: false, drawTicks: true, tickLength: 8, tickWidth: 2.5, tickColor: '#333333' },
            border: { display: false },
            title: { display: true, text: c.xTitle, color: '#000', font: titleFont, padding: { top: 0, bottom: c.xTitlePad } },
          },
          y: {
            type: 'linear', min: c.yMin, max: c.yMax,
            afterBuildTicks: (s: any) => { s.ticks = c.yTicks.map(v => ({ value: v })); },
            afterFit: (s: any) => { s.width = c.yAxisWidth; s.paddingTop = 0; s.paddingBottom = 0; s.paddingLeft = 0; s.paddingRight = 0; },
            ticks: { autoSkip: false, padding: 8, color: '#4D4D4D', font: tickFont, callback: (_v: any, i: number) => c.yTickLabels[i] },
            grid: { drawOnChartArea: false, drawTicks: true, tickLength: 8, tickWidth: 2.5, tickColor: '#333333' },
            border: { display: false },
            title: { display: true, text: 'Log odds ratio', color: '#000', font: titleFont, padding: { top: c.yTitlePad, bottom: 0 } },
          },
        },
      } as any,
    });
    return () => chart.destroy();
  }, [cfg]);
  return (
    <canvas ref={ref} width={cfg.width} height={cfg.height}
      style={{ position: 'absolute', left: cfg.left, top: cfg.top, width: cfg.width, height: cfg.height }} />
  );
}

// ---------------- header text ----------------
const K_ARIAL = 0.8465;
const K_OPEN = 0.888;
const LINE_SIZE = 36.8;
const P_SIZE = 37.6;
const N_SIZE = 37.5;
const LETTER_SIZE = 86;

function Txt(props: { x: number; b: number; size: number; fam: string; k: number; weight?: number; children: any }) {
  const { x, b, size, fam, k, weight, children } = props;
  return (
    <div style={{ position: 'absolute', left: x, top: b - k * size, fontFamily: fam, fontSize: size, lineHeight: 1,
      whiteSpace: 'nowrap', fontWeight: weight || 400, color: '#000' }}>{children}</div>
  );
}

const it = (size: number, ml: number) => ({ fontFamily: OPEN, fontStyle: 'italic' as const, fontSize: size, marginLeft: ml });

function Header({ x, nx, base, title, letter, lx, lb, italicSize, italicGap }: { x: number; nx: number; base: number[]; title: string[]; letter: string; lx: number; lb: number; italicSize: number; italicGap: number }) {
  return (
    <>
      <Txt x={lx} b={lb} size={LETTER_SIZE} fam={OPEN} k={K_OPEN}>{letter}</Txt>
      <Txt x={x} b={base[0]} size={LINE_SIZE} fam={ARIAL} k={K_ARIAL}>{title[0]}</Txt>
      <Txt x={x} b={base[1]} size={LINE_SIZE} fam={ARIAL} k={K_ARIAL}>{title[1]}<span style={it(italicSize, italicGap)}>{title[2]}</span></Txt>
      <Txt x={x} b={base[2]} size={P_SIZE} fam={OPEN} k={K_OPEN}>{title[3]}</Txt>
      <Txt x={x} b={base[3]} size={P_SIZE} fam={OPEN} k={K_OPEN}>{title[4]}</Txt>
      <Txt x={nx} b={base[4]} size={N_SIZE} fam={OPEN} k={K_OPEN}>{title[5]}</Txt>
    </>
  );
}

export default function App() {
  return (
    <div style={{ position: 'absolute', left: 0, top: 0, width: 1800, height: 1856, background: '#fff', overflow: 'hidden' }}>
      {panels.map((p, i) => <Panel key={i} cfg={p} />)}
      <Header x={94} nx={94} base={[61, 100, 142, 182, 232]} title={aTitle} letter="A" lx={0} lb={68} italicSize={36} italicGap={6} />
      <Header x={1055} nx={1055} base={[61, 100, 142, 182, 232]} title={bTitle} letter="B" lx={938} lb={65} italicSize={34} italicGap={4} />
      <Header x={118} nx={122} base={[1032, 1071, 1113, 1154, 1203]} title={cTitle} letter="C" lx={-5} lb={1040} italicSize={36} italicGap={6} />
      <Txt x={938} b={1038} size={LETTER_SIZE} fam={OPEN} k={K_OPEN}>D</Txt>
      <Txt x={1037} b={1030} size={LINE_SIZE} fam={ARIAL} k={K_ARIAL}>{dTitle[0]}</Txt>
      <Txt x={1037} b={1069} size={LINE_SIZE} fam={ARIAL} k={K_ARIAL}>{dTitle[1]}<span style={{ fontFamily: OPEN, fontSize: 33.5 }}>{dTitle[2]}</span><span style={it(34, 0)}>{dTitle[3]}</span></Txt>
      <Txt x={1037} b={1110} size={P_SIZE} fam={OPEN} k={K_OPEN}>{dTitle[4]}</Txt>
      <Txt x={1037} b={1150} size={P_SIZE} fam={OPEN} k={K_OPEN}>{dTitle[5]}</Txt>
      <Txt x={1043} b={1200} size={N_SIZE} fam={OPEN} k={K_OPEN}>{dTitle[6]}</Txt>
    </div>
  );
}
